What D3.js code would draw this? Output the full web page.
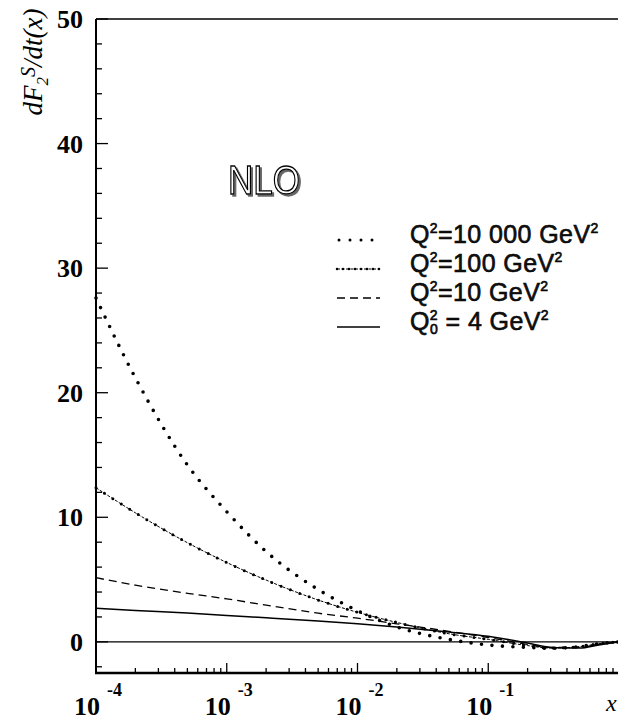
<!DOCTYPE html>
<html>
<head>
<meta charset="utf-8">
<script src="https://cdn.jsdelivr.net/npm/d3@7/dist/d3.min.js"></script>
<style>
  html, body { margin: 0; padding: 0; background: #fff; }
  svg { display: block; }
</style>
</head>
<body>
<main></main>
<script>
const width = 618;
const height = 721;
const margin = {top: 19, right: -1, bottom: 48, left: 96};

// x grid (log) and the four curves
const xValues = [1e-4, 2e-4, 5e-4, 1e-3, 2e-3, 5e-3, 1e-2, 2e-2, 5e-2, 0.1, 0.2, 0.3, 0.5, 0.7, 1];
const q10000 = [27.6, 21.2, 14.2, 10.45, 7.25, 4.2, 2.5, 1.2, 0.2, -0.25, -0.45, -0.52, -0.38, -0.15, 0];
const q100   = [12.37, 10.36, 7.96, 6.37, 4.96, 3.36, 2.37, 1.56, 0.65, 0.2, -0.3, -0.5, -0.38, -0.15, 0];
const q10    = [5.15, 4.55, 3.9, 3.45, 2.95, 2.3, 1.9, 1.45, 0.85, 0.35, -0.2, -0.45, -0.45, -0.2, 0];
const q4     = [2.69, 2.52, 2.32, 2.12, 1.93, 1.67, 1.45, 1.2, 0.8, 0.45, -0.1, -0.45, -0.5, -0.25, 0];

const yTicks = d3.range(-2, 51, 2);
const yLabels = [0, 10, 20, 30, 40, 50];
const xLabels = [1e-4, 1e-3, 1e-2, 1e-1];
const xExp = ["-4", "-3", "-2", "-1"];

const x = d3.scaleLog().domain([1e-4, 1]).range([margin.left, width - margin.right]);
const y = d3.scaleLinear().domain([-2.5, 50]).range([height - margin.bottom, margin.top]);

const svg = d3.select('main')
              .append('svg')
              .attr('width', width)
              .attr('height', height);

const serif = '"Liberation Serif", "Times New Roman", serif';
const sans = '"Liberation Sans", Arial, sans-serif';

// shadow for the NLO label
const defs = svg.append("defs");
defs.append("filter").attr("id", "shade")
    .append("feDropShadow")
    .attr("dx", 2).attr("dy", 2).attr("stdDeviation", 0)
    .attr("flood-color", "#666");

// zero line
svg.append("line")
   .attr("x1", x(1e-4)).attr("x2", x(1))
   .attr("y1", y(0)).attr("y2", y(0))
   .style("stroke", "#000").style("stroke-width", 1.3);

// curves
const line = d3.line()
               .x((d, i) => x(xValues[i]))
               .y(d => y(d))
               .curve(d3.curveMonotoneX);

svg.append("path").datum(q4).attr("d", line)
   .style("fill", "none").style("stroke", "#000").style("stroke-width", 1.5);

svg.append("path").datum(q10).attr("d", line)
   .style("fill", "none").style("stroke", "#000").style("stroke-width", 1.3)
   .style("stroke-dasharray", "8 5");

svg.append("path").datum(q100).attr("d", line)
   .style("fill", "none").style("stroke", "#000").style("stroke-width", 1)
   .style("stroke-dasharray", "3 1.5");
svg.append("path").datum(q100).attr("d", line)
   .style("fill", "none").style("stroke", "#000").style("stroke-width", 3)
   .style("stroke-linecap", "round")
   .style("stroke-dasharray", "0 10");

svg.append("path").datum(q10000).attr("d", line)
   .style("fill", "none").style("stroke", "#000").style("stroke-width", 3.6)
   .style("stroke-linecap", "round")
   .style("stroke-dasharray", "0 10.5");

// frame
const x0 = x(1e-4), x1 = x(1), yb = y(-2.5), yt = y(50);
svg.append("line").attr("x1", x0).attr("x2", x1).attr("y1", yt).attr("y2", yt)
   .style("stroke", "#000").style("stroke-width", 1.6);
svg.append("line").attr("x1", x1).attr("x2", x1).attr("y1", yt).attr("y2", yb)
   .style("stroke", "#000").style("stroke-width", 1.6);
svg.append("line").attr("x1", x0).attr("x2", x0).attr("y1", yt).attr("y2", yb + 1)
   .style("stroke", "#000").style("stroke-width", 2);
svg.append("line").attr("x1", x0 - 1).attr("x2", x1).attr("y1", yb).attr("y2", yb)
   .style("stroke", "#000").style("stroke-width", 2.5);

// y ticks
svg.append("g").selectAll("line")
   .data(yTicks)
   .enter()
   .append("line")
   .attr("x1", x0)
   .attr("x2", d => x0 + (d % 10 === 0 ? 12 : 6))
   .attr("y1", d => y(d)).attr("y2", d => y(d))
   .style("stroke", "#000").style("stroke-width", 1.3);

// x ticks (decades and 2..9 minors)
const xTicks = [];
[1e-4, 1e-3, 1e-2, 1e-1].forEach(dec => {
  for (let k = 1; k < 10; k++) xTicks.push({v: dec * k, major: k === 1});
});
svg.append("g").selectAll("line")
   .data(xTicks)
   .enter()
   .append("line")
   .attr("x1", d => x(d.v)).attr("x2", d => x(d.v))
   .attr("y1", yb)
   .attr("y2", d => yb - (d.major ? 10 : 5))
   .style("stroke", "#000").style("stroke-width", 1.3);

// y tick labels
svg.append("g").selectAll("text")
   .data(yLabels)
   .enter()
   .append("text")
   .attr("x", 83)
   .attr("y", d => y(d) + 9)
   .attr("text-anchor", "end")
   .style("font-family", serif).style("font-weight", "bold").style("font-size", "26px")
   .text(d => d);

// x tick labels: 10 with exponent
const xl = svg.append("g").selectAll("g")
   .data(xLabels)
   .enter()
   .append("g");
xl.append("text")
  .attr("x", d => x(d) + 4)
  .attr("y", 715)
  .attr("text-anchor", "end")
  .style("font-family", serif).style("font-weight", "bold").style("font-size", "26px")
  .text("10");
xl.append("text")
  .attr("x", d => x(d) + 11)
  .attr("y", 696)
  .style("font-family", serif).style("font-weight", "bold").style("font-size", "18px")
  .text((d, i) => xExp[i]);

// x axis title
svg.append("text")
   .attr("x", 606).attr("y", 711)
   .style("font-family", serif).style("font-style", "italic").style("font-size", "24px")
   .text("x");

// y axis title
const yt1 = svg.append("text")
   .attr("transform", "translate(42,62) rotate(-90)")
   .attr("text-anchor", "middle")
   .style("font-family", serif).style("font-style", "italic").style("font-size", "27px");
yt1.append("tspan").text("dF");
yt1.append("tspan").attr("dy", 6).style("font-size", "17px").text("2");
yt1.append("tspan").attr("dy", -13).style("font-size", "20px").text("S");
yt1.append("tspan").attr("dy", 7).text("/dt(x)");

// NLO label (outlined with shadow)
svg.append("text")
   .attr("x", 228).attr("y", 194)
   .attr("textLength", 72).attr("lengthAdjust", "spacingAndGlyphs")
   .attr("filter", "url(#shade)")
   .style("font-family", sans).style("font-size", "40px")
   .style("fill", "#fff").style("stroke", "#000").style("stroke-width", 1.3)
   .text("NLO");

// legend
const legendRows = [
  {key: "dot", base: 243},
  {key: "dashdot", base: 272},
  {key: "dash", base: 301},
  {key: "solid", base: 330}
];
const lg = svg.append("g");
legendRows.forEach(r => {
  const l = () => lg.append("line").attr("x1", 337).attr("x2", 380).attr("y1", r.base - 3).attr("y2", r.base - 3)
                    .style("stroke", "#000").style("fill", "none");
  if (r.key === "dot") {
    l().style("stroke-width", 3).style("stroke-linecap", "round").style("stroke-dasharray", "0 11")
       .attr("x1", 339);
  } else if (r.key === "dashdot") {
    l().style("stroke-width", 1).style("stroke-dasharray", "3 1.5");
    l().style("stroke-width", 2.5).style("stroke-linecap", "round").style("stroke-dasharray", "0 6");
  } else if (r.key === "dash") {
    l().style("stroke-width", 1.3).style("stroke-dasharray", "8 5");
  } else {
    l().style("stroke-width", 1.5);
  }
});

const lt = (base) => lg.append("text")
   .attr("x", 410).attr("y", base)
   .style("font-family", sans).style("font-size", "25px")
   .style("letter-spacing", "0.4px")
   .style("fill", "#111").style("stroke", "#000").style("stroke-width", 0.6);

let t = lt(243);
t.append("tspan").text("Q");
t.append("tspan").attr("dy", -10).style("font-size", "14px").text("2");
t.append("tspan").attr("dy", 10).text("=10 000 GeV");
t.append("tspan").attr("dy", -10).style("font-size", "14px").text("2");

t = lt(272);
t.append("tspan").text("Q");
t.append("tspan").attr("dy", -10).style("font-size", "14px").text("2");
t.append("tspan").attr("dy", 10).text("=100 GeV");
t.append("tspan").attr("dy", -10).style("font-size", "14px").text("2");

t = lt(301);
t.append("tspan").text("Q");
t.append("tspan").attr("dy", -10).style("font-size", "14px").text("2");
t.append("tspan").attr("dy", 10).text("=10 GeV");
t.append("tspan").attr("dy", -10).style("font-size", "14px").text("2");

t = lt(330);
t.append("tspan").text("Q");
t.append("tspan").attr("dy", -10).style("font-size", "14px").text("2");
t.append("tspan").attr("dx", -8).attr("dy", 14).style("font-size", "14px").text("0");
t.append("tspan").attr("dy", -4).text(" = 4 GeV");
t.append("tspan").attr("dy", -10).style("font-size", "14px").text("2");
</script>
</body>
</html>
